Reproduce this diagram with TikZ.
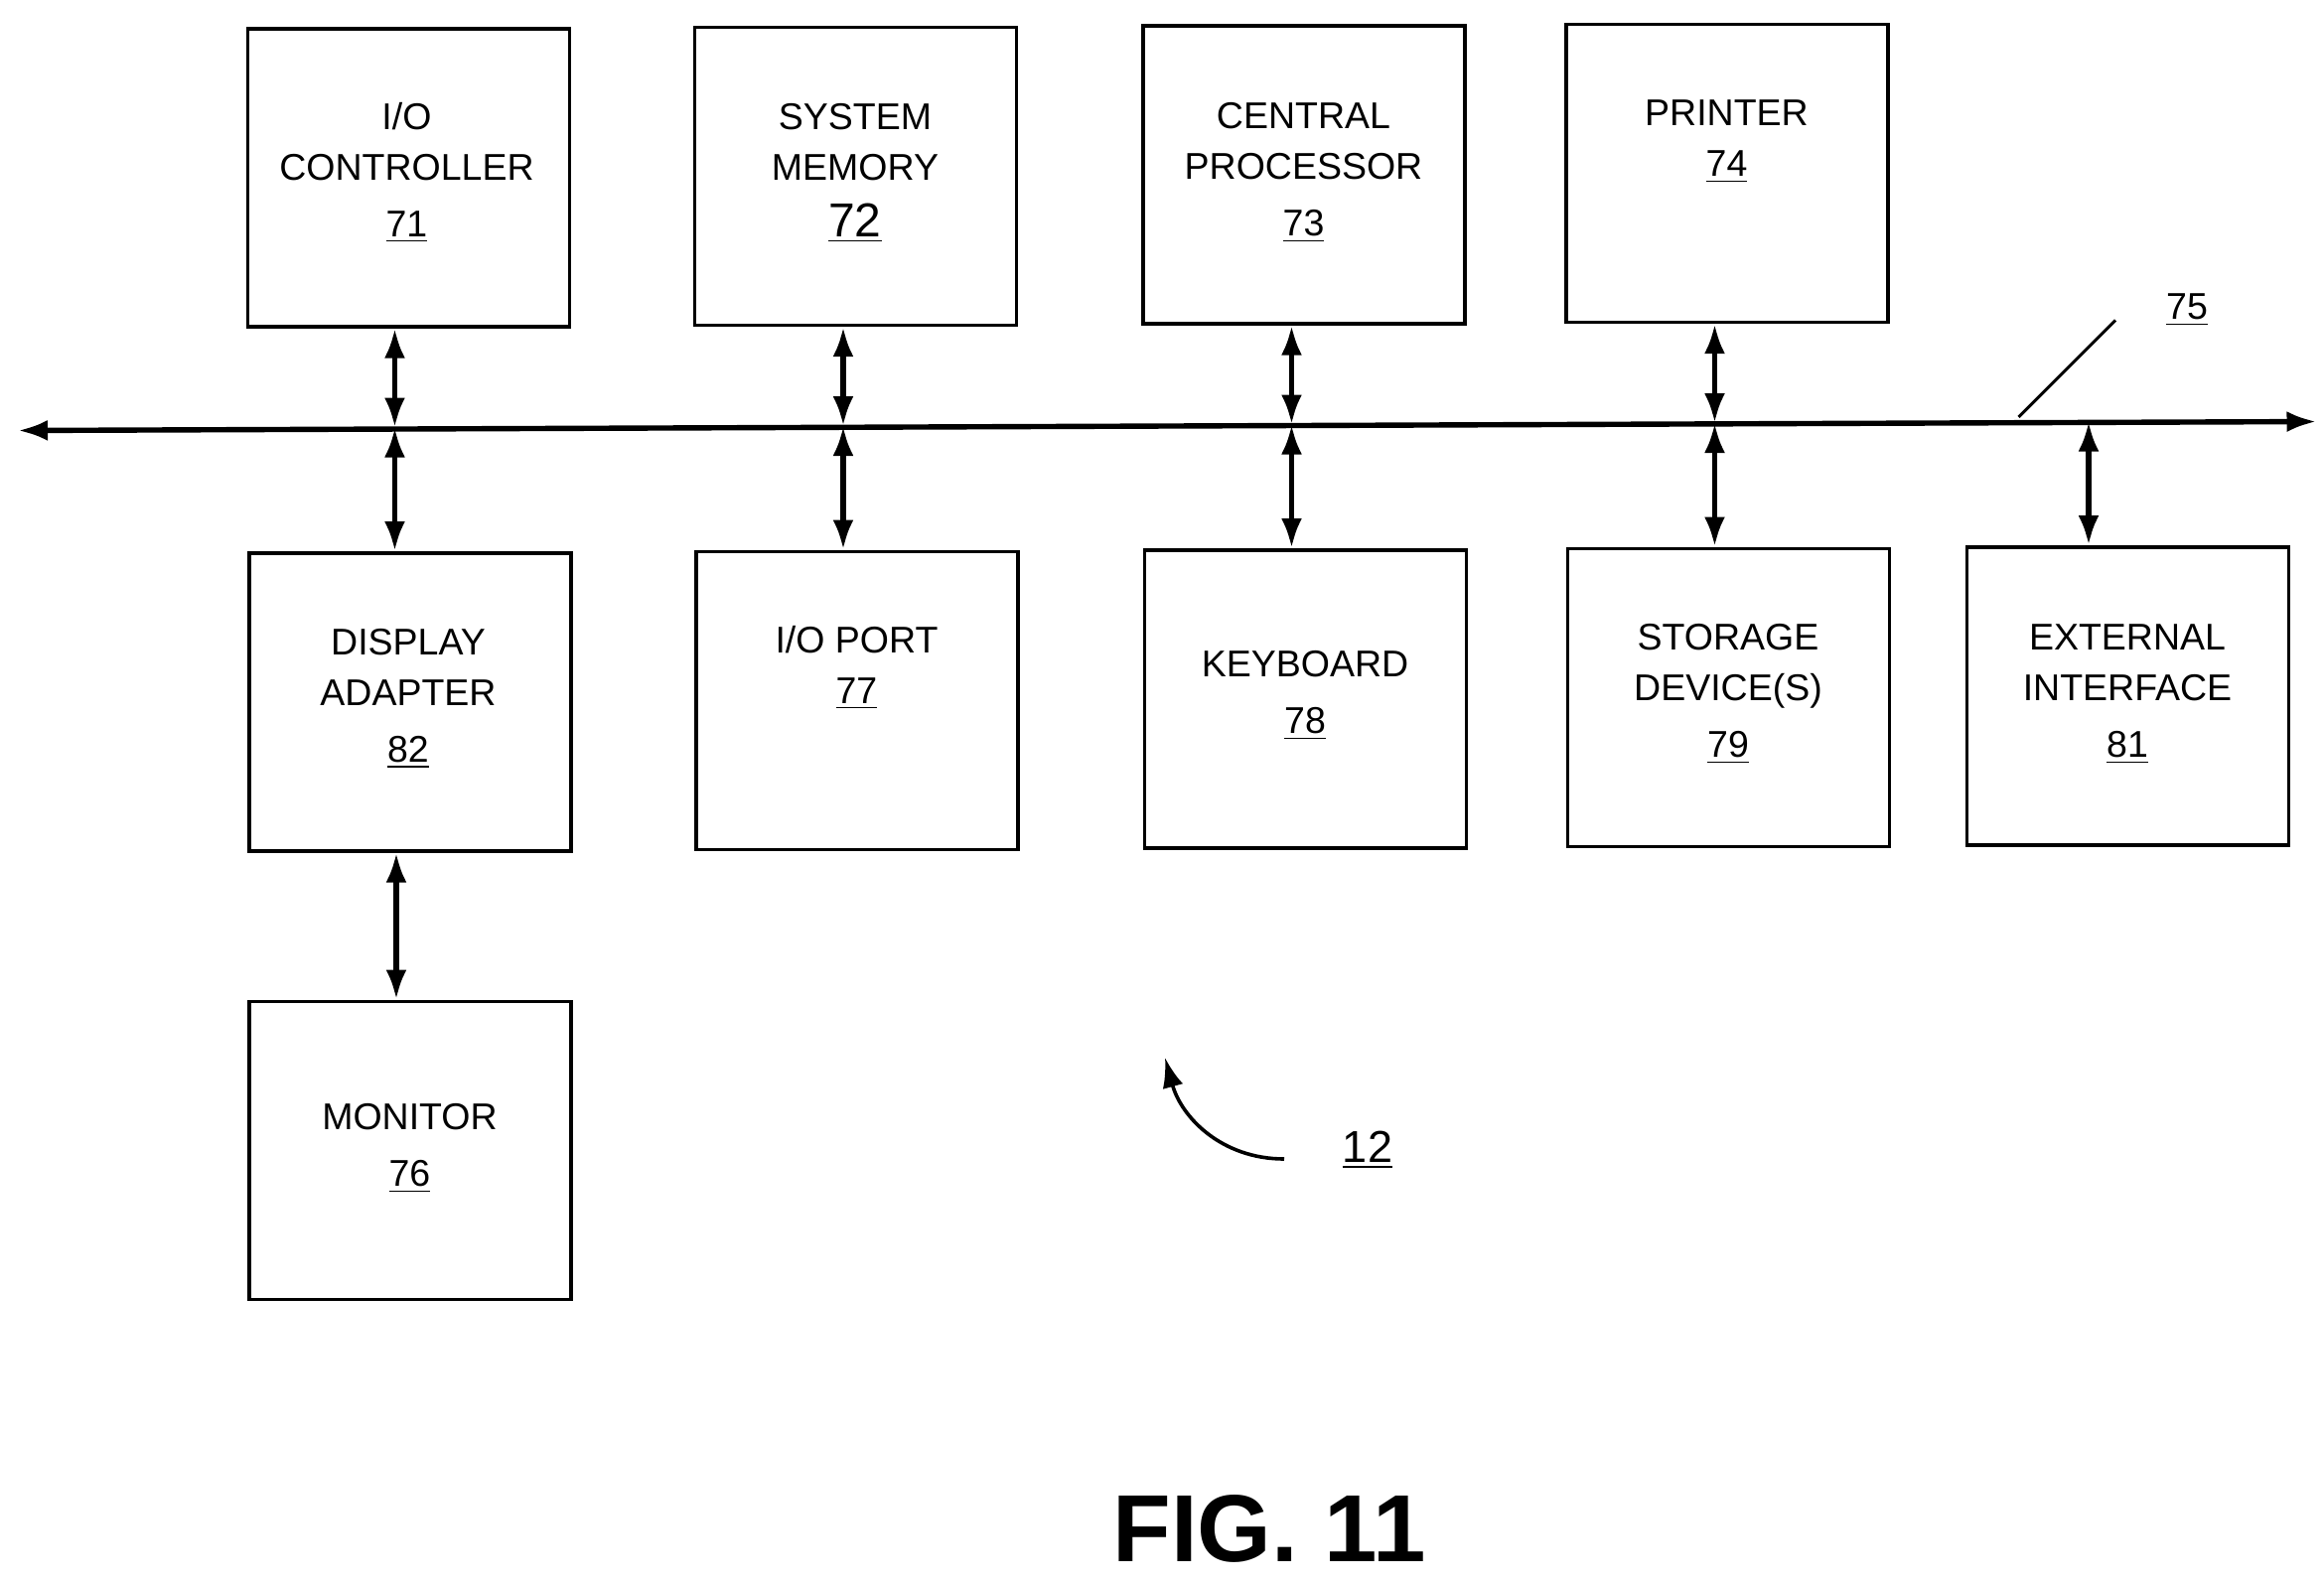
\documentclass[tikz,border=0pt]{standalone}
\usepackage{fontspec}
\setmainfont{Liberation Sans}
\usetikzlibrary{arrows.meta}
\begin{document}
\begin{tikzpicture}[x=0.5pt,y=-0.5pt,
  box/.style={draw,line width=1.2pt,minimum width=108pt,minimum height=100pt,anchor=north west,inner sep=0pt},
  lbl/.style={font=\fontsize{12.5}{17}\selectfont,align=center},
  dbl/.style={line width=1.8pt,{Latex[length=10pt,width=7pt]}-{Latex[length=10pt,width=7pt]}}]
\useasboundingbox (0,0) rectangle (1560,1062);
\node[box] (b71) at (165,18) {};
\node[box] (b72) at (465,17) {};
\node[box] (b73) at (766,16) {};
\node[box] (b74) at (1050,15) {};
\node[box] (b82) at (166,370) {};
\node[box] (b77) at (466,369) {};
\node[box] (b78) at (767,368) {};
\node[box] (b79) at (1051,367) {};
\node[box] (b81) at (1319,366) {};
\node[box] (b76) at (166,671) {};
\node[lbl] (t71) at (273,116) {I/O\\CONTROLLER\\[2pt]\underline{71}};
\node[lbl] (t72) at (574,116) {SYSTEM\\MEMORY\\[2pt]{\fontsize{16}{17}\selectfont\underline{72}}};
\node[lbl] (t73) at (875,116) {CENTRAL\\PROCESSOR\\[2pt]\underline{73}};
\node[lbl] (t74) at (1159,95) {PRINTER\\\underline{74}};
\node[lbl] (t82) at (274,469) {DISPLAY\\ADAPTER\\[2pt]\underline{82}};
\node[lbl] (t77) at (575,448) {I/O PORT\\\underline{77}};
\node[lbl] (t78) at (876,467) {KEYBOARD\\[2pt]\underline{78}};
\node[lbl] (t79) at (1160,466) {STORAGE\\DEVICE(S)\\[2pt]\underline{79}};
\node[lbl] (t81) at (1428,466) {EXTERNAL\\INTERFACE\\[2pt]\underline{81}};
\node[lbl] (t76) at (275,771) {MONITOR\\[2pt]\underline{76}};
\coordinate (bl) at (12,289);
\coordinate (br) at (1555,283);
\draw[dbl] (bl) -- (br);
\foreach \n/\x/\y in {71/265/287,72/566/286,73/867/285,74/1151/284}{
  \coordinate (c\n) at (\x,\y);
  \draw[dbl] (b\n.south -| c\n) -- (c\n);}
\foreach \n/\x/\y in {82/265/287,77/566/286,78/867/285,79/1151/284,81/1402/283}{
  \coordinate (d\n) at (\x,\y);
  \draw[dbl] (d\n) -- (b\n.north -| d\n);}
\coordinate (m) at (266,571);
\draw[dbl] (b82.south -| m) -- (b76.north -| m);
\coordinate (l75a) at (1355,280);
\coordinate (l75b) at (1420,215);
\draw[line width=1pt] (l75a) -- (l75b);
\node[lbl] (n75) at (1468,208) {\underline{75}};
\node[lbl,font=\fontsize{15}{17}\selectfont] (n12) at (918,772) {\underline{12}};
\coordinate (a12) at (862,778);
\coordinate (h12) at (782,710);
\draw[line width=1.2pt,-{Latex[length=10pt,width=7pt]}] (a12) .. controls (820,778) and (793,750) .. (h12);
\node[font=\bfseries\fontsize{32}{34}\selectfont] (fig) at (852,1026) {FIG. 11};
\end{tikzpicture}
\end{document}
